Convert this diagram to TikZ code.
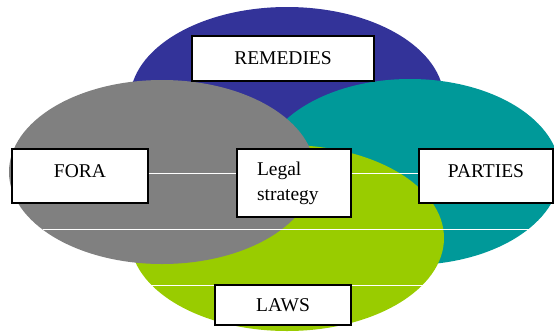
\documentclass[tikz,border=0pt]{standalone}
\usepackage{fontspec}
\setmainfont{Liberation Serif}
\definecolor{remblue}{HTML}{333399}
\definecolor{partteal}{HTML}{009999}
\definecolor{foragray}{HTML}{808080}
\definecolor{lawgreen}{HTML}{99CC00}
\begin{document}
\begin{tikzpicture}
			[x=1pt,y=-1pt,box/.style={draw,fill=white,line width=1.1pt,inner sep=0pt,font=\fontsize{19.5}{25}\selectfont},
			 seam/.style={white,line width=.8pt}]
			\useasboundingbox (0,0) rectangle (554,333);
			\begin{scope}
			\clip (0,0) rectangle (554,333);
			\fill[remblue] (287,100) ellipse [x radius=157, y radius=93];
			\fill[partteal] (410,172) ellipse [x radius=150, y radius=93];
			\fill[lawgreen] (287,238) ellipse [x radius=157, y radius=93];
			\fill[foragray] (162,172) ellipse [x radius=153, y radius=92];
			\end{scope}
			
			\draw[seam] (43,229) -- (529,229);
			\draw[seam] (147,285) -- (425,285);
			
			\node[box,minimum width=182pt,minimum height=45pt] (rem) at (283,58.5) {REMEDIES};
			\node[box,minimum width=136pt,minimum height=54pt,text depth=9pt] (fora) at (80,176) {FORA};
			\node[box,text width=74pt,inner xsep=20pt,minimum height=68pt,align=left] (legal) at (294,183) {Legal\\strategy};
			\node[box,minimum width=134pt,minimum height=54pt,text depth=9pt] (part) at (486,176) {PARTIES};
			\node[box,minimum width=136pt,minimum height=40pt] (laws) at (283,305) {LAWS};
			
			\draw[seam] ([yshift=3pt]fora.east) -- ([yshift=3pt]fora.east -| legal.west);
			\draw[seam] ([yshift=3pt]part.west -| legal.east) -- ([yshift=3pt]part.west);
			\end{tikzpicture}
\end{document}
